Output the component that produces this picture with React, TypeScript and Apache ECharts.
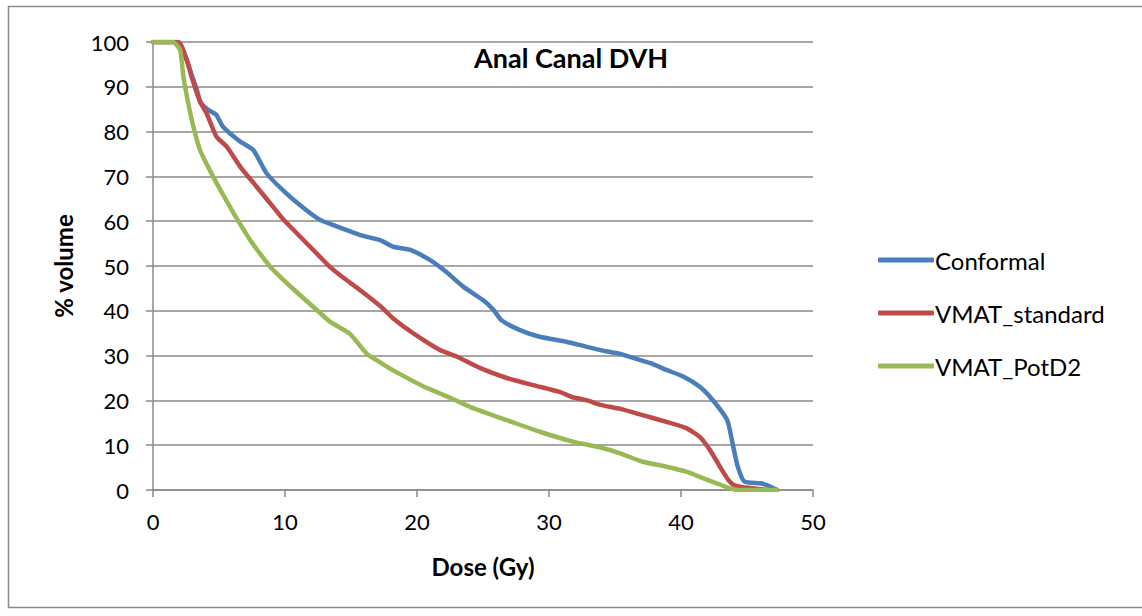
import React, { useEffect, useRef } from "react";
import * as echarts from "echarts";

// Dose-volume histogram: dose (Gy) against % volume for three plans
const conformalDose = [0, 1.9, 2.55, 3.0, 3.3, 3.6, 4.2, 4.8, 5.3, 6.6, 7.6, 8.6, 10.1, 11.6, 12.65, 13.6, 15.7, 17.2, 18.2, 19.5, 21.0, 22.2, 23.5, 25.0, 25.8, 26.4, 27.8, 29.3, 31.3, 32.8, 34.4, 35.4, 36.9, 37.7, 38.9, 40.2, 41.4, 42.4, 43.5, 43.9, 44.3, 44.8, 46.0, 46.5, 47.0, 47.3];
const conformalVol = [100, 100, 96, 92, 89.5, 86.6, 84.8, 83.7, 81.1, 77.8, 75.9, 70.7, 66.2, 62.5, 60.3, 59.2, 56.9, 55.8, 54.3, 53.6, 51.3, 48.7, 45.4, 42.4, 40.2, 37.9, 35.7, 34.2, 33.1, 32.0, 30.9, 30.4, 29.0, 28.3, 26.8, 25.3, 23.1, 20.1, 15.6, 10.5, 5.2, 1.9, 1.5, 1.1, 0.4, 0];

const standardDose = [0, 1.9, 2.55, 3.0, 3.56, 4.06, 4.8, 5.6, 6.6, 7.85, 9.1, 9.9, 10.6, 11.6, 12.5, 13.4, 14.5, 15.7, 17.2, 18.2, 19.7, 21.7, 23.0, 24.8, 26.8, 28.8, 30.8, 31.8, 32.9, 33.9, 35.4, 37.1, 38.9, 40.4, 41.4, 42.2, 42.95, 43.6, 44.0, 44.7, 45.7, 46.5];
const standardVol = [100, 100, 96, 91.5, 86.7, 84.1, 78.9, 76.6, 72.2, 67.7, 63.2, 60.3, 58.2, 55.2, 52.5, 49.8, 47.2, 44.6, 41.1, 38.3, 35.0, 31.3, 29.8, 27.2, 25.0, 23.4, 21.9, 20.7, 20.0, 19.0, 18.1, 16.7, 15.2, 13.8, 11.9, 8.9, 5.2, 2.2, 1.1, 0.6, 0.3, 0];

const potD2Dose = [0, 1.5, 2.05, 2.3, 2.67, 3.06, 3.56, 4.3, 5.1, 6.1, 6.8, 7.4, 8.9, 10.5, 12.4, 13.4, 14.9, 16.2, 17.2, 18.2, 20.5, 21.7, 22.8, 24.3, 26.8, 29.3, 31.8, 33.9, 35.4, 37.1, 38.9, 40.4, 41.7, 42.7, 43.7, 44.3, 47.3];
const potD2Vol = [100, 100, 98.2, 92.3, 86.3, 81.1, 75.9, 71.4, 67.0, 61.8, 58.4, 55.6, 49.8, 45.2, 40.2, 37.6, 34.9, 30.4, 28.5, 26.7, 23.1, 21.6, 20.2, 18.2, 15.6, 13.0, 10.8, 9.5, 8.2, 6.3, 5.2, 4.1, 2.6, 1.5, 0.4, 0, 0];

const seriesNames = ["Conformal", "VMAT_standard", "VMAT_PotD2"];
const seriesColors = ["#4a7ebb", "#be4b48", "#98b954"];
const xTicks = [0, 50, 10];
const yTicks = [0, 100, 10];

const pairs = (xs: number[], ys: number[]) => xs.map((x, i) => [x, ys[i]]);

const FONT = "Lato, 'Noto Sans', sans-serif";
const GRID_COLOR = "#8a8a8a";

export default function App() {
  const ref = useRef<HTMLDivElement>(null);

  useEffect(() => {
    if (!ref.current) return;
    const chart = echarts.init(ref.current, undefined, { renderer: "svg" });
    const data = [
      pairs(conformalDose, conformalVol),
      pairs(standardDose, standardVol),
      pairs(potD2Dose, potD2Vol),
    ];
    chart.setOption({
      animation: false,
      backgroundColor: "#ffffff",
      textStyle: { fontFamily: FONT },
      title: {
        text: "Anal Canal DVH",
        left: 469,
        top: 39,
        textStyle: { fontFamily: FONT, fontSize: 27, fontWeight: "bold", color: "#000" },
      },
      graphic: [
        {
          type: "rect",
          shape: { x: 8.5, y: 6.5, width: 1150, height: 601 },
          style: { fill: "none", stroke: "#8a8a8a", lineWidth: 1.5 },
          silent: true,
        },
      ],
      legend: {
        orient: "vertical",
        left: 873,
        top: 243,
        itemWidth: 56,
        itemHeight: 5,
        itemGap: 29,
        icon: "roundRect",
        data: seriesNames,
        textStyle: { fontFamily: FONT, fontSize: 24, color: "#000", padding: [0, 0, 0, -4] },
      },
      grid: { left: 153, right: 329, top: 42, bottom: 126 },
      xAxis: {
        type: "value",
        min: xTicks[0],
        max: xTicks[1],
        interval: xTicks[2],
        name: "Dose (Gy)",
        nameLocation: "middle",
        nameGap: 64,
        nameTextStyle: { fontFamily: FONT, fontSize: 24, fontWeight: "bold", color: "#000" },
        axisLine: { show: true, lineStyle: { color: GRID_COLOR, width: 1.5 } },
        axisTick: { show: true, inside: false, length: 7, lineStyle: { color: GRID_COLOR, width: 1.5 } },
        axisLabel: { fontFamily: FONT, fontSize: 22, color: "#000", margin: 20 },
        splitLine: { show: false },
      },
      yAxis: {
        type: "value",
        min: yTicks[0],
        max: yTicks[1],
        interval: yTicks[2],
        name: "% volume",
        nameLocation: "middle",
        nameGap: 78,
        nameTextStyle: { fontFamily: FONT, fontSize: 24, fontWeight: "bold", color: "#000" },
        axisLine: { show: true, lineStyle: { color: GRID_COLOR, width: 1.5 } },
        axisTick: { show: true, inside: false, length: 7, lineStyle: { color: GRID_COLOR, width: 1.5 } },
        axisLabel: { fontFamily: FONT, fontSize: 22, color: "#000", margin: 24 },
        splitLine: { show: true, lineStyle: { color: GRID_COLOR, width: 1.5 } },
      },
      series: seriesNames.map((name, i) => ({
        name,
        type: "line",
        data: data[i],
        showSymbol: false,
        symbol: "none",
        smooth: 0.2,
        color: seriesColors[i],
        lineStyle: { color: seriesColors[i], width: 4.5, cap: "round", join: "round" },
        z: 2 + i,
      })),
    });
    return () => chart.dispose();
  }, []);

  return (
    <div
      ref={ref}
      style={{ position: "fixed", left: 0, top: 0, width: 1142, height: 616 }}
    />
  );
}
